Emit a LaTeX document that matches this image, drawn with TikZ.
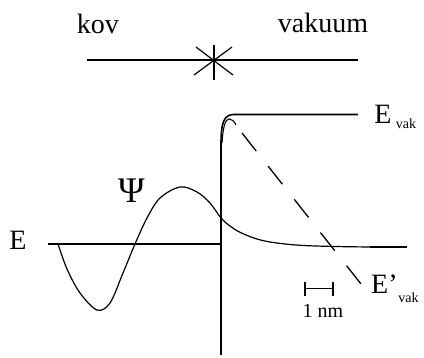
\documentclass[tikz,border=0pt]{standalone}
\usepackage{fontspec}
\setmainfont{Liberation Serif}
\begin{document}
\begin{tikzpicture}[x=1pt,y=-1pt,
  mainline/.style={line width=1.6pt},
  starline/.style={line width=1.2pt},
  wave/.style={line width=1.2pt, line join=round},
  dashline/.style={line width=1.3pt, dash pattern=on 23pt off 19.25pt},
  big/.style={inner sep=0pt, anchor=base, font=\fontsize{28}{31}\selectfont},
  psi/.style={inner sep=0pt, font=\fontsize{36}{40}\selectfont},
  sub/.style={inner sep=0pt, anchor=base, font=\fontsize{14}{16}\selectfont},
  small/.style={inner sep=0pt, anchor=base, font=\fontsize{20}{24}\selectfont}]
\useasboundingbox (0,0) rectangle (424,358);

% labels
\node[big] (kov) at (98,34) {kov};
\node[big] (vak) at (323,33) {vakuum};
\node[big] (E) at (18,250) {E};
\node[big] (Ev) at (383,124) {E};
\node[sub] (Evs) at (406,129) {vak};
\node[big, anchor=base west] (Ep) at (371,294) {E’};
\node[sub] (Eps) at (408.5,303) {vak};
\node[psi] (Psi) at (131.5,190.5) {Ψ};
\node[small] (nm) at (323,318) {1 nm};

% top line with star
\coordinate (tl) at (87,60);
\coordinate (tr) at (358,60);
\draw[mainline] (tl) -- (tr);
\coordinate (s1) at (214,45);
\coordinate (s2) at (214,80);
\coordinate (s3) at (196,47);
\coordinate (s4) at (233,75);
\coordinate (s5) at (232,47);
\coordinate (s6) at (194,75);
\draw[starline] (s1) -- (s2);
\draw[starline] (s3) -- (s4);
\draw[starline] (s5) -- (s6);

% interface and vacuum level
\coordinate (vb) at (221,355);
\coordinate (vt) at (221,145);
\coordinate (ct) at (234,114.5);
\coordinate (evr) at (358,114.5);
\draw[mainline] (vb) -- (vt) .. controls (221,122) and (224,114.5) .. (ct) -- (evr);

% image-potential hook and dashed line
\coordinate (h1) at (222,143);
\coordinate (h2) at (229,119);
\coordinate (h3) at (236,125);
\draw[line width=1.1pt] (h1) .. controls (223,128) and (225,119) .. (h2) .. controls (232,119) and (234,121) .. (h3);
\coordinate (d1) at (242,133);
\coordinate (d2) at (361,284);
\draw[dashline] (d1) -- (d2);

% energy level E (metal side)
\coordinate (el) at (48,244);
\coordinate (er) at (221,244);
\draw[mainline] (el) -- (er);

% wave function
\draw[wave] plot[smooth, tension=0.55] coordinates {(58,244) (67,269) (80,293) (97,310) (110,303) (123,273) (135,244) (147,218) (160,198) (180,187) (197,192) (210,203) (221,218) (230,226) (240,232.3) (255,238.4) (270,242) (290,244.5) (310,245.8) (340,246.6) (370,247)};
\coordinate (w1) at (370,247);
\coordinate (w2) at (407,247);
\draw[mainline] (w1) -- (w2);

% scale bar
\coordinate (b1) at (305,288.5);
\coordinate (b2) at (333,288.5);
\draw[line width=1.6pt] (b1) -- (b2);
\draw[line width=1.6pt] (305,282) -- (305,296);
\draw[line width=1.6pt] (333,282) -- (333,296);
\end{tikzpicture}
\end{document}
